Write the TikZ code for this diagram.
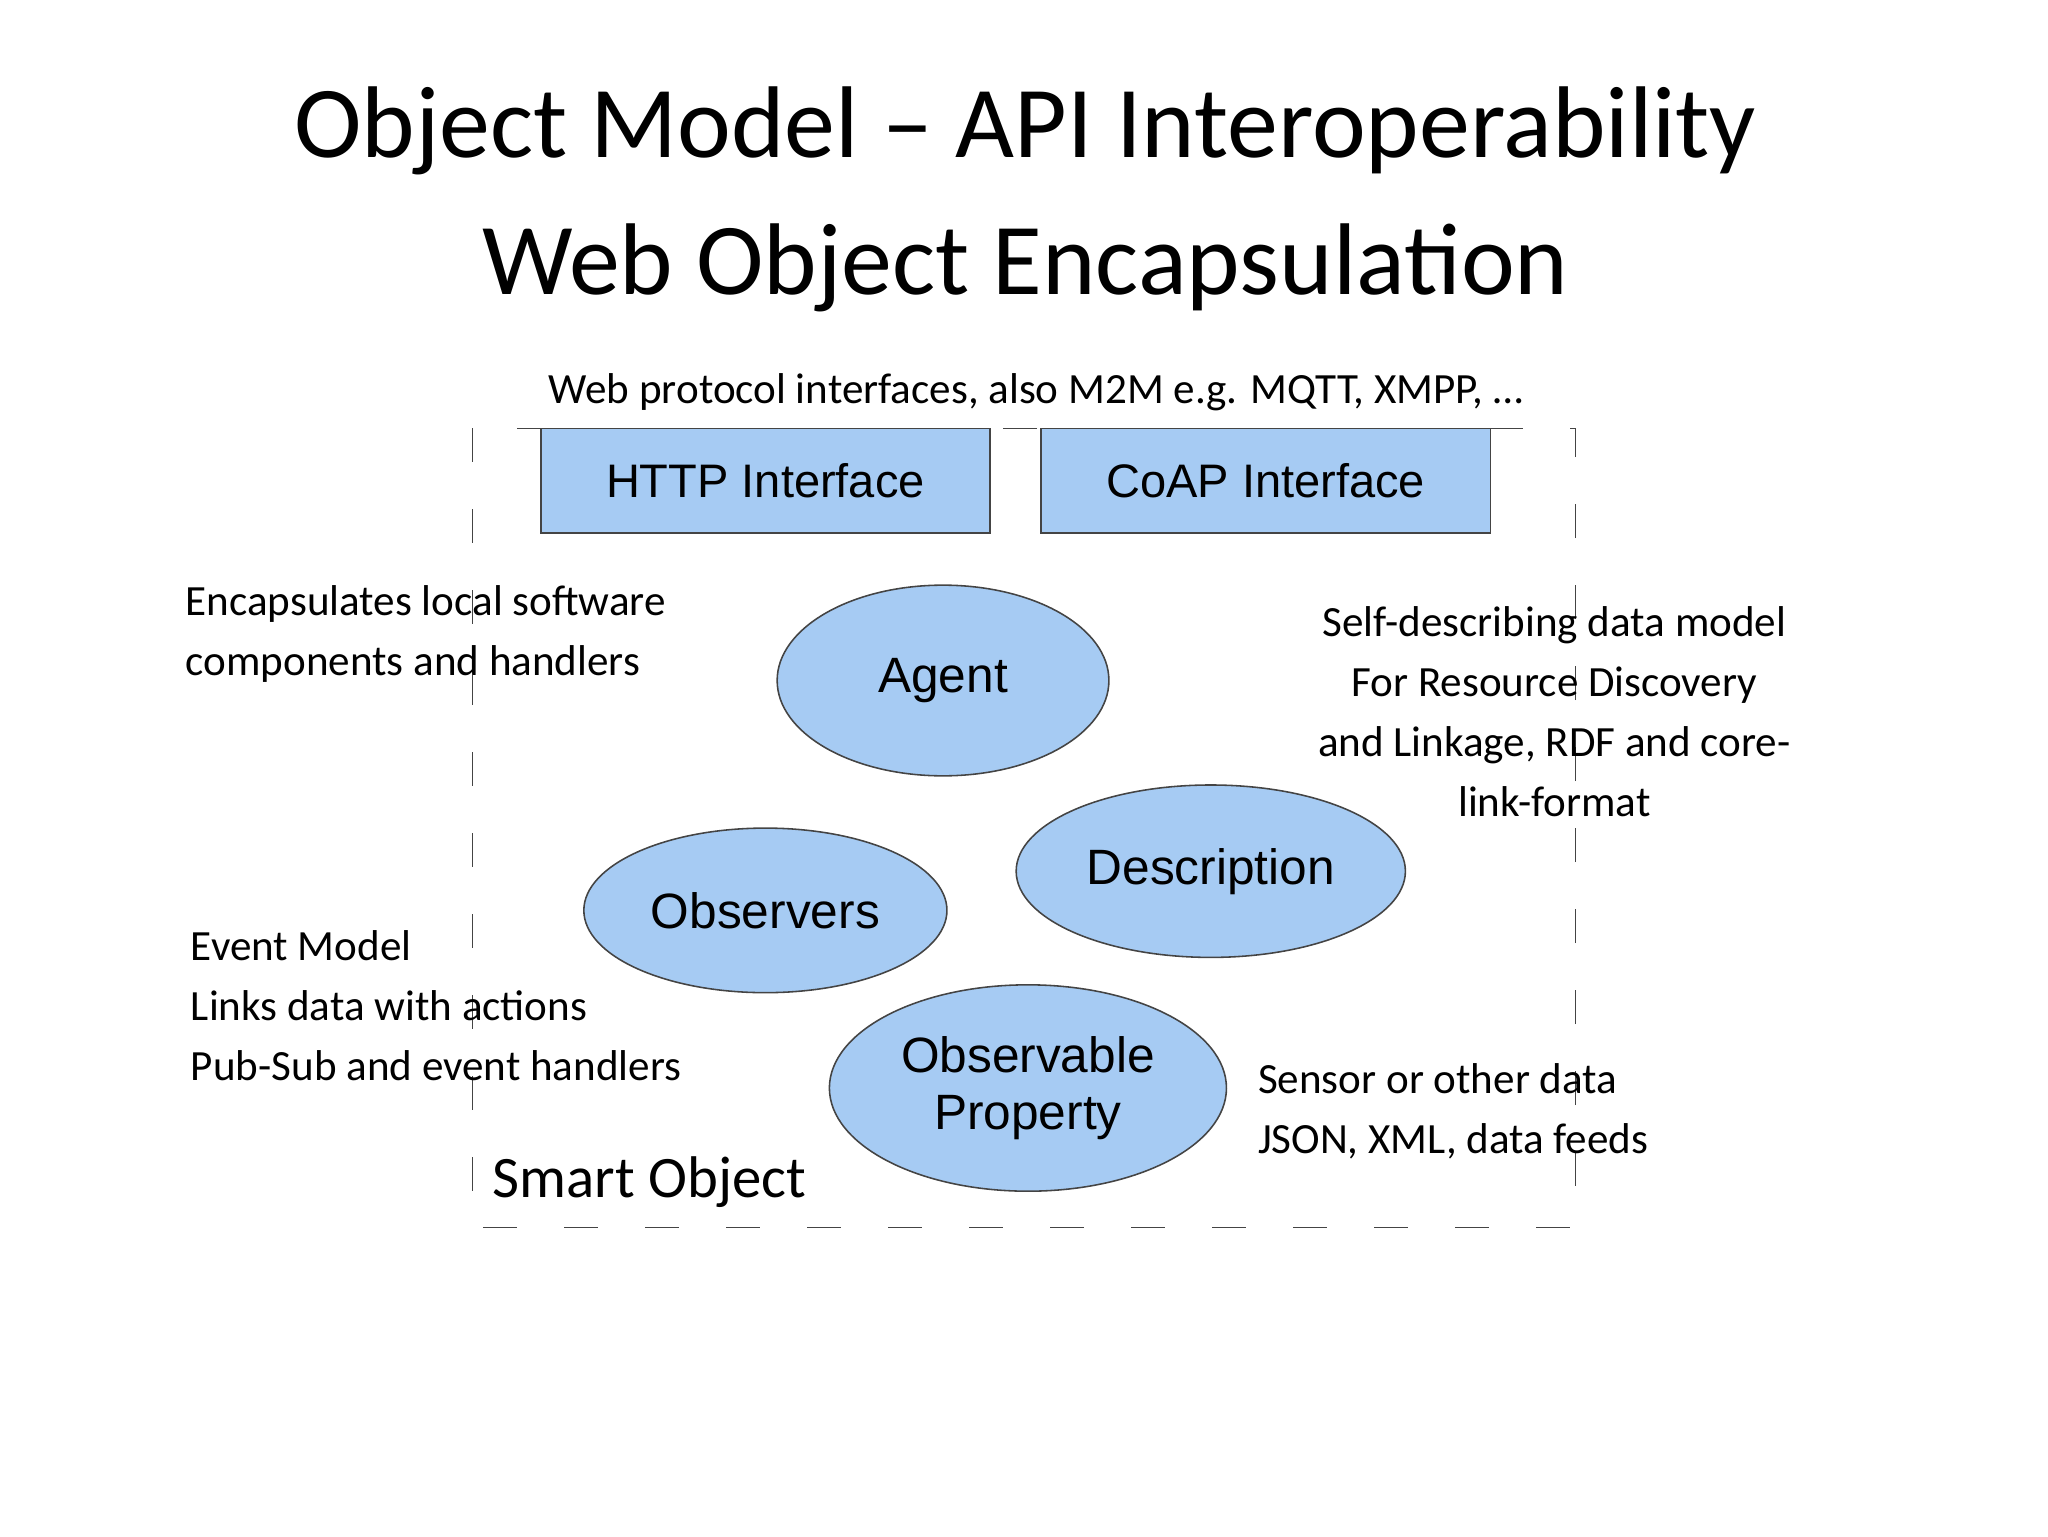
\documentclass[tikz,border=0pt]{standalone}
\usepackage{fontspec}
\setmainfont{Carlito}
\newfontfamily\arialf{Liberation Sans}
\usetikzlibrary{shapes.geometric}
\definecolor{lb}{HTML}{A6CBF3}
\definecolor{bd}{HTML}{444444}
\tikzset{
  box/.style={draw=bd, fill=lb, line width=1.2pt, minimum width=344pt, minimum height=80pt, inner sep=0pt, font=\arialf\fontsize{36}{40}\selectfont},
  ell/.style={ellipse, draw=bd, fill=lb, line width=1.2pt, inner sep=0pt, font=\arialf\fontsize{38}{40}\selectfont},
  note/.style={font=\fontsize{33}{46}\selectfont, inner sep=0pt},
}
\begin{document}
\begin{tikzpicture}[x=1pt,y=-1pt]
\useasboundingbox (0,0) rectangle (1568,1176);
\node (t1) at (785,100) {\fontsize{78}{80}\selectfont Object Model – API Interoperability};
\node (t2) at (785,205) {\fontsize{78}{80}\selectfont Web Object Encapsulation};
\node[note] (sub) at (793,300) {Web protocol interfaces, also M2M e.g. MQTT, XMPP, …};
\draw[bd, line width=1pt, dash pattern=on 26pt off 36pt] (362,328) rectangle (1206,940);
\node[box] (http) at (586,368) {HTTP Interface};
\node[box] (coap) at (969,368) {CoAP Interface};
\node[ell, minimum width=254pt, minimum height=146pt] (agent) at (722,521) {Agent};
\node[ell, minimum width=298pt, minimum height=132pt] (desc) at (927,667) {Description};
\node[ell, minimum width=278pt, minimum height=126pt] (obs) at (586,697) {Observers};
\node[ell, minimum width=304pt, minimum height=158pt, align=center, font=\arialf\fontsize{38}{44}\selectfont] (prop) at (787,833) {Observable\\Property};
\node[note, anchor=north west, align=left] (enc) at (142,448) {Encapsulates local software\\components and handlers};
\node[note, align=center] (self) at (1190,545) {Self-describing data model\\For Resource Discovery\\and Linkage, RDF and core-\\link-format};
\node[note, anchor=north west, align=left] (ev) at (146,712) {Event Model\\Links data with actions\\Pub-Sub and event handlers};
\node[note, anchor=north west, align=left] (sens) at (963,814) {Sensor or other data\\JSON, XML, data feeds};
\node[anchor=west, inner sep=0pt] (so) at (377,905) {\fontsize{45}{50}\selectfont Smart Object};
\end{tikzpicture}
\end{document}
